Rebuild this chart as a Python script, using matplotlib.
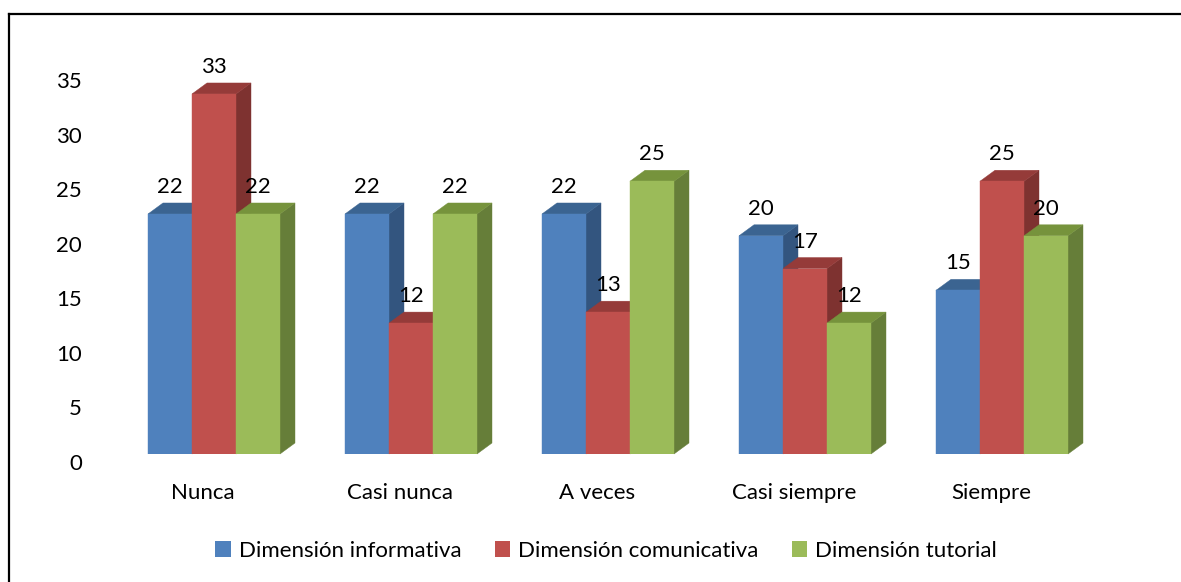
import matplotlib
matplotlib.use("Agg")
import matplotlib.pyplot as plt
from matplotlib.patches import Polygon, Patch
from matplotlib.transforms import ScaledTranslation
from matplotlib.lines import Line2D

categories = ["Nunca", "Casi nunca", "A veces", "Casi siempre", "Siempre"]
informativa = [22, 22, 22, 20, 15]
comunicativa = [33, 12, 13, 17, 25]
tutorial = [22, 22, 25, 12, 20]
series_names = ["Dimensión informativa", "Dimensión comunicativa", "Dimensión tutorial"]
yticks = [0, 5, 10, 15, 20, 25, 30, 35]

front = ["#4F81BD", "#C0504D", "#9BBB59"]
top_c = ["#3B6491", "#953B39", "#76933C"]
side_c = ["#33557F", "#7E3230", "#667E39"]

plt.rcParams['font.family'] = ['Lato', 'DejaVu Sans']
FS = 16

DPI = 100
W, H = 1181, 582
fig = plt.figure(figsize=(W / DPI, H / DPI), dpi=DPI)

# axes in pixel geometry
ax_left_px, ax_right_px = 100, 1110
ax_bottom_px, ax_top_px = 454, 40  # from top
ax = fig.add_axes([ax_left_px / W, (H - ax_bottom_px) / H,
                   (ax_right_px - ax_left_px) / W, (ax_bottom_px - ax_top_px) / H])

group_px = 197.0
px_per_unit = 10.91
center0 = 214.0
ax.set_xlim((ax_left_px - center0) / group_px, (ax_right_px - center0) / group_px)
ax.set_ylim(0, (ax_bottom_px - ax_top_px) / px_per_unit)

bw = 44.0 / group_px
ddx, ddy = 15.0, 11.0  # depth in pixels
dxd = ddx / group_px
dyd = ddy / px_per_unit

series = [informativa, comunicativa, tutorial]
z = 2
for i in range(len(categories)):
    for s, vals in enumerate(series):
        v = vals[i]
        x0 = i + (s - 1.5) * bw
        x1 = x0 + bw
        side = Polygon([(x1, 0), (x1 + dxd, dyd), (x1 + dxd, v + dyd), (x1, v)],
                       closed=True, facecolor=side_c[s], edgecolor=side_c[s], lw=0.3,
                       zorder=z, clip_on=False)
        topf = Polygon([(x0, v), (x0 + dxd, v + dyd), (x1 + dxd, v + dyd), (x1, v)],
                       closed=True, facecolor=top_c[s], edgecolor=top_c[s], lw=0.3,
                       zorder=z, clip_on=False)
        ax.add_patch(side)
        ax.add_patch(topf)
        # front face
        ax.bar(x0, v, width=bw, align='edge', color=front[s], zorder=z + 0.5,
               edgecolor=front[s], linewidth=0.3)
        ax.annotate(str(v), xy=(x0 + bw / 2, v), xytext=(0, 27),
                    textcoords='offset pixels', ha='center', va='center',
                    fontsize=FS, color='black', zorder=z + 1)
        z += 2

for sp in ax.spines.values():
    sp.set_visible(False)

ax.set_yticks(yticks)
ax.set_xticks(range(len(categories)))
ax.set_xticklabels(categories)
ax.tick_params(axis='both', length=0, labelsize=FS, colors='black')
ax.tick_params(axis='y', pad=13)
ax.tick_params(axis='x', pad=21)
for lab in ax.get_yticklabels():
    lab.set_horizontalalignment('right')
    lab.set_transform(lab.get_transform() + ScaledTranslation(0, -8 / DPI, fig.dpi_scale_trans))
for lab in ax.get_xticklabels():
    lab.set_transform(lab.get_transform() + ScaledTranslation(-11 / DPI, 0, fig.dpi_scale_trans))

handles = [Patch(facecolor=c, edgecolor='none') for c in front]
fig.legend(handles, series_names, loc='center',
           bbox_to_anchor=(606 / W, (H - 551) / H), ncol=3, frameon=False,
           fontsize=FS, handlelength=0.7, handleheight=0.7, handletextpad=0.35,
           columnspacing=1.5)

# chart border (left and top visible)
fig.add_artist(Line2D([8.5 / W, 8.5 / W], [0, (H - 14) / H], color='black', lw=1.6))
fig.add_artist(Line2D([8.5 / W, 1.0], [(H - 14) / H, (H - 14) / H], color='black', lw=1.6))

fig.savefig("out.png", dpi=DPI)
